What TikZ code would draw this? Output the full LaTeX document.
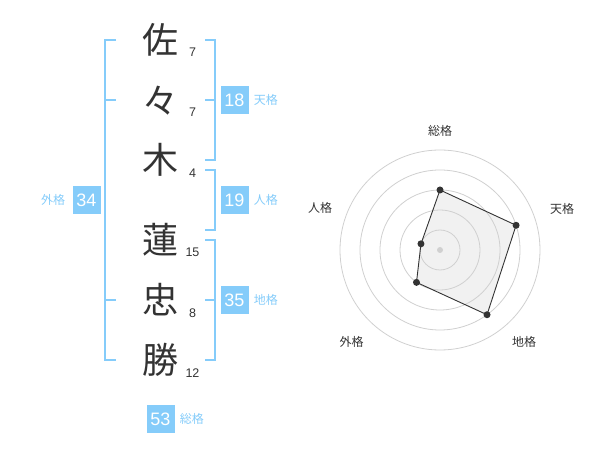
\documentclass[tikz,border=0pt]{standalone}
\usepackage{fontspec}
\setmainfont{Liberation Sans}
\newfontfamily\jp{Noto Sans CJK JP}
\usepackage{tikz}
\usetikzlibrary{positioning}
\definecolor{sky}{RGB}{133, 204, 250}
\definecolor{ink}{RGB}{51, 51, 51}
\definecolor{ring}{RGB}{208, 208, 208}
\definecolor{area}{RGB}{241, 241, 241}
\tikzstyle{kanji} = [inner sep=0pt, text=ink, font=\jp\fontsize{36}{36}\selectfont]
\tikzstyle{numstroke} = [inner sep=0pt, text=ink, font=\fontsize{12.5}{13}\selectfont]
\tikzstyle{kaku} = [fill=sky, text=white, inner sep=0pt, minimum size=28pt, font=\fontsize{18}{18}\selectfont]
\tikzstyle{kakuname} = [inner sep=0pt, text=sky, font=\jp\fontsize{12}{12}\selectfont]
\tikzstyle{bracket} = [draw=sky, line width=2pt]
\tikzstyle{axis} = [inner sep=0pt, text=ink, font=\jp\fontsize{12}{12}\selectfont]
\tikzstyle{dot} = [circle, fill=ink, inner sep=0pt, minimum size=7pt]

\begin{document}
\begin{tikzpicture}[x=1pt, y=-1pt]
\useasboundingbox (0,0) rectangle (600,470);

% name =============================

% characters
\node[kanji] (c1) at (160,40) {佐};
\node[kanji] (c2) at (160,101) {々};
\node[kanji] (c3) at (160,160) {木};
\node[kanji] (c4) at (160,240) {蓮};
\node[kanji] (c5) at (160,300) {忠};
\node[kanji] (c6) at (160,360) {勝};

% strokes
\node[numstroke] (n1) at (192.5,52.7) {7};
\node[numstroke] (n2) at (192.5,112.7) {7};
\node[numstroke] (n3) at (192.5,173.3) {4};
\node[numstroke] (n4) at (192.5,252.7) {15};
\node[numstroke] (n5) at (192.5,312.7) {8};
\node[numstroke] (n6) at (192.5,372.7) {12};

% brackets
\draw[bracket] (116,40) -- (105,40) -- (105,360) -- (116,360);
\draw[bracket] (105,100) -- (116,100);
\draw[bracket] (105,300) -- (116,300);
\draw[bracket] (205,40) -- (215,40) -- (215,160) -- (205,160);
\draw[bracket] (205,100) -- (215,100);
\draw[bracket] (205,170) -- (215,170) -- (215,230) -- (205,230);
\draw[bracket] (205,240) -- (215,240) -- (215,360) -- (205,360);
\draw[bracket] (205,300) -- (215,300);

% kaku
\node[kaku] (ten) at (234.5,100) {18};
\node[kakuname, right=5pt of ten] (tenname) {天格};
\node[kaku] (jin) at (234.5,200) {19};
\node[kakuname, right=5pt of jin] (jinname) {人格};
\node[kaku] (chi) at (234.5,300) {35};
\node[kakuname, right=5pt of chi] (chiname) {地格};
\node[kaku] (gai) at (86.5,200) {34};
\node[kakuname, left=7pt of gai] (gainame) {外格};
\node[kaku] (sou) at (160.5,419) {53};
\node[kakuname, right=5pt of sou] (souname) {総格};

% radar =============================

\begin{scope}[shift={(440,250)}, y=1pt]
\coordinate (psou) at (90:60);
\coordinate (pten) at (18:80);
\coordinate (pchi) at (-54:80);
\coordinate (pgai) at (-126:40);
\coordinate (pjin) at (162:20);

\fill[area] (psou) -- (pten) -- (pchi) -- (pgai) -- (pjin) -- cycle;
\foreach \r in {20,40,...,100}
  \draw[ring, line width=0.8pt] (0,0) circle (\r);
\draw[ink, line width=0.9pt] (psou) -- (pten) -- (pchi) -- (pgai) -- (pjin) -- cycle;

\node[circle, fill=ring, inner sep=0pt, minimum size=6pt] (ctr) at (0,0) {};
\node[dot] (dsou) at (psou) {};
\node[dot] (dten) at (pten) {};
\node[dot] (dchi) at (pchi) {};
\node[dot] (dgai) at (pgai) {};
\node[dot] (djin) at (pjin) {};

% axis labels
\node[axis] (lsou) at (0,119.3) {総格};
\node[axis] (lten) at (122,41.5) {天格};
\node[axis] (lchi) at (84,-91.7) {地格};
\node[axis] (lgai) at (-88.3,-91.7) {外格};
\node[axis] (ljin) at (-120,42) {人格};
\end{scope}

\end{tikzpicture}
\end{document}
